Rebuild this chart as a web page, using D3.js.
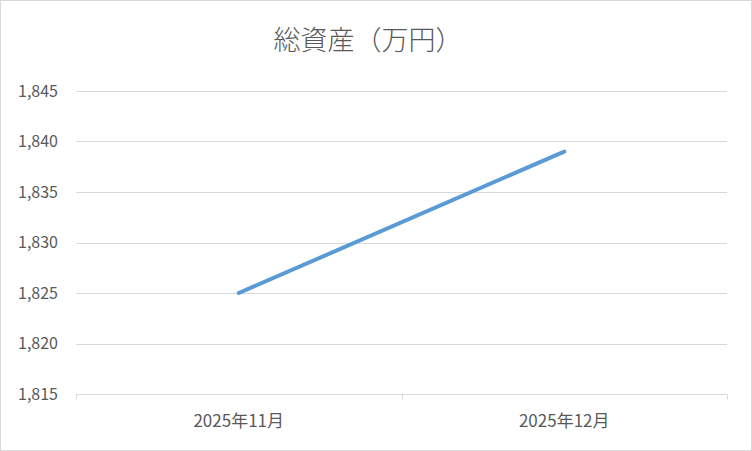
<!DOCTYPE html>
<html>
<head>
<meta charset="utf-8">
<script src="https://cdn.jsdelivr.net/npm/d3@7"></script>
<style>
  html, body { margin: 0; padding: 0; background: #fff; }
  .tick text { fill: #595959; }
</style>
</head>
<body>
<div class="chart"></div>
<script>
// chart data
var months = ["2025年11月", "2025年12月"];
var totalAssets = [1825, 1839];
var yTicks = [1815, 1820, 1825, 1830, 1835, 1840, 1845];

var svgWidth = 752;
var svgHeight = 451;

var margin = { top: 91, right: 25, bottom: 57, left: 76 };
var width = svgWidth - margin.left - margin.right;
var height = svgHeight - margin.top - margin.bottom;

var svg = d3.select(".chart")
  .append("svg")
  .attr("width", svgWidth)
  .attr("height", svgHeight);

// outer border
svg.append("rect")
  .attr("x", 0.5).attr("y", 0.5)
  .attr("width", svgWidth - 1).attr("height", svgHeight - 1)
  .attr("fill", "#fff")
  .attr("stroke", "#d9d9d9");

// title
svg.append("text")
  .attr("x", svgWidth / 2 - 8)
  .attr("y", 50)
  .attr("text-anchor", "middle")
  .style("font-family", "'Noto Sans CJK JP', sans-serif")
  .style("font-size", "27px")
  .style("font-weight", "300")
  .style("fill", "#595959")
  .text("総資産（万円）");

var chartGroup = svg.append("g")
  .attr("transform", `translate(${margin.left}, ${margin.top})`);

var xBandScale = d3.scaleBand()
  .domain(months)
  .range([0, width]);

var yLinearScale = d3.scaleLinear()
  .domain([1815, 1845])
  .range([height, 0]);

// gridlines
chartGroup.append("g")
  .selectAll("line")
  .data(yTicks.slice(1))
  .enter()
  .append("line")
  .attr("x1", 0)
  .attr("x2", width)
  .attr("y1", d => Math.round(yLinearScale(d)) + 0.5)
  .attr("y2", d => Math.round(yLinearScale(d)) + 0.5)
  .attr("stroke", "#d9d9d9")
  .attr("stroke-width", 1);

// y axis labels
var leftAxis = d3.axisLeft(yLinearScale)
  .tickValues(yTicks)
  .tickFormat(d3.format(","))
  .tickSize(0)
  .tickPadding(18);

var yAxis = chartGroup.append("g").call(leftAxis);
yAxis.select(".domain").remove();
yAxis.selectAll("text")
  .style("font-family", "'Noto Sans CJK JP', sans-serif")
  .style("font-size", "16px");

// x axis
var xAxis = chartGroup.append("g")
  .attr("transform", `translate(0, ${Math.round(height) + 0.5})`);

xAxis.append("line")
  .attr("x1", 0).attr("x2", width)
  .attr("stroke", "#d9d9d9");

xAxis.selectAll(".xtick")
  .data(d3.range(months.length + 1))
  .enter()
  .append("line")
  .attr("x1", i => Math.round(i * xBandScale.step()) + 0.5)
  .attr("x2", i => Math.round(i * xBandScale.step()) + 0.5)
  .attr("y1", 0)
  .attr("y2", 5)
  .attr("stroke", "#d9d9d9");

xAxis.selectAll(".xlabel")
  .data(months)
  .enter()
  .append("text")
  .attr("x", d => xBandScale(d) + xBandScale.bandwidth() / 2)
  .attr("y", 32)
  .attr("text-anchor", "middle")
  .style("font-family", "'Noto Sans CJK JP', sans-serif")
  .style("font-size", "17px")
  .style("fill", "#595959")
  .text(d => d);

// line
var line = d3.line()
  .x((d, i) => xBandScale(months[i]) + xBandScale.bandwidth() / 2)
  .y(d => yLinearScale(d));

chartGroup.append("path")
  .datum(totalAssets)
  .attr("d", line)
  .attr("fill", "none")
  .attr("stroke", "#5b9bd5")
  .attr("stroke-width", 4)
  .attr("stroke-linecap", "round");
</script>
</body>
</html>
